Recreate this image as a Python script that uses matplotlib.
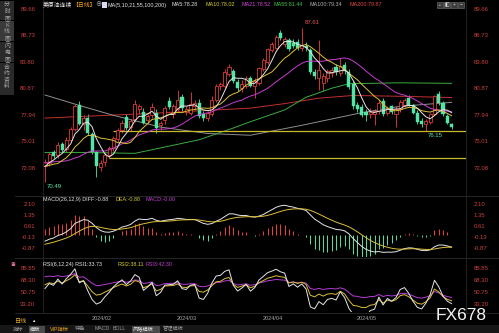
import numpy as np
import pandas as pd
import matplotlib
matplotlib.use("Agg")
import matplotlib.pyplot as plt
from matplotlib.patches import Rectangle

plt.rcParams['font.family'] = ['Liberation Sans', 'Noto Sans CJK SC', 'DejaVu Sans']

W, H = 499, 333

# daily candles, 2024-01-12 .. 2024-05-31
opens = [72.3, 72.6, 73.9, 73.5, 74.7, 74.2, 75.2, 76.4, 79.1, 76.9,
         77.6, 75.8, 73.8, 72.2, 72.7, 73.5, 74.3, 75.3, 76.3, 77.7,
         76.6, 77.5, 78.6, 78.3, 77.4, 77.9, 78.2, 76.8, 77.4, 79.5,
         78.0, 78.6, 79.9, 78.3, 78.2, 78.9, 79.3, 78.0, 77.6, 78.0,
         79.6, 81.1, 81.2, 82.5, 82.8, 81.6, 80.9, 81.2, 82.0, 81.1,
         81.5, 83.0, 83.8, 85.1, 85.4, 87.0, 85.8, 86.2, 85.9, 86.0,
         85.3, 85.6, 85.1, 82.7, 82.0, 81.5, 82.0, 82.6, 83.2, 82.6,
         83.5, 82.7, 81.4, 79.0, 78.8, 78.3, 78.0, 78.0, 78.4, 79.5,
         78.2, 78.9, 78.1, 78.6, 79.0, 79.8, 79.0, 78.2, 77.3, 76.9,
         77.2, 78.1, 80.3, 79.3, 77.8, 76.9]
highs = [73.1, 73.9, 74.1, 74.9, 75.0, 75.5, 76.6, 79.2, 79.5, 77.9,
         78.0, 76.1, 74.0, 73.0, 73.8, 74.5, 75.6, 76.5, 77.4, 78.0,
         77.5, 79.6, 79.2, 78.7, 78.0, 79.3, 78.6, 77.3, 78.9, 79.9,
         79.2, 80.7, 80.3, 78.9, 80.5, 79.6, 79.7, 78.4, 78.4, 80.0,
         81.4, 81.6, 83.0, 83.6, 83.0, 81.9, 81.8, 82.3, 82.3, 82.0,
         83.3, 84.2, 85.4, 86.0, 86.8, 87.3, 86.6, 86.5, 86.3, 86.3,
         87.61, 86.0, 85.4, 83.0, 86.2, 82.6, 83.0, 83.2, 83.6, 84.2,
         83.8, 83.0, 81.7, 79.4, 79.2, 78.6, 78.7, 78.6, 79.6, 79.8,
         78.9, 79.1, 78.9, 79.6, 79.8, 80.2, 79.2, 78.5, 77.6, 77.5,
         78.2, 80.2, 80.6, 79.5, 78.0, 77.1]
lows = [70.49, 72.3, 73.2, 73.2, 73.9, 73.9, 75.0, 76.2, 76.8, 76.3,
        75.7, 73.6, 71.1, 71.7, 72.3, 73.2, 74.0, 75.0, 76.0, 76.3,
        76.2, 77.2, 78.1, 76.9, 77.0, 77.6, 75.9, 76.3, 77.0, 78.6,
        77.6, 78.3, 78.4, 77.9, 77.9, 78.5, 77.6, 77.3, 77.3, 77.8,
        79.4, 80.7, 80.9, 82.2, 81.5, 80.6, 80.5, 80.9, 81.0, 79.8,
        81.3, 82.8, 83.6, 84.9, 85.2, 86.2, 85.5, 85.0, 85.3, 85.1,
        85.0, 85.0, 82.5, 81.9, 80.7, 80.6, 81.6, 82.1, 82.4, 82.3,
        82.5, 80.8, 78.6, 78.3, 77.7, 77.3, 77.6, 76.8, 78.1, 77.8,
        77.9, 78.0, 76.6, 78.3, 78.8, 78.9, 78.0, 77.0, 76.6, 76.15,
        77.0, 77.9, 79.1, 77.8, 76.9, 76.4]
closes = [72.7, 73.6, 73.4, 74.6, 74.1, 75.2, 76.4, 78.9, 77.0, 77.6,
          75.9, 73.8, 72.3, 72.6, 73.5, 74.3, 75.4, 76.3, 77.1, 76.5,
          77.3, 79.2, 78.9, 77.1, 77.8, 78.8, 76.5, 77.1, 78.7, 78.8,
          78.9, 79.6, 78.7, 78.6, 79.2, 79.3, 77.8, 77.6, 78.2, 79.6,
          81.2, 81.4, 82.7, 83.3, 81.7, 80.9, 81.4, 82.0, 81.2, 81.7,
          83.1, 84.0, 85.2, 85.8, 86.6, 86.4, 86.3, 85.2, 85.6, 85.3,
          85.7, 85.3, 82.7, 82.2, 82.9, 82.3, 82.8, 82.9, 82.7, 83.4,
          82.8, 81.0, 78.9, 78.6, 77.9, 77.9, 78.3, 78.4, 79.3, 78.1,
          78.7, 78.3, 78.6, 79.4, 79.6, 79.1, 78.2, 77.2, 76.9, 77.3,
          78.0, 80.0, 79.3, 78.0, 77.1, 76.6]
# closes before the first visible candle (warm-up for MA / RSI)
pre_closes = [71.4, 72.5, 73.4, 74.2, 73.9, 73.6, 75.0, 74.1, 71.8, 71.6,
              70.4, 72.7, 72.2, 73.8, 70.8, 72.2, 71.4, 72.0, 72.7, 72.4]

# long moving averages read at a few candles
ma55_idx = [0, 9, 21, 28, 36, 44, 48, 56, 61, 67, 71, 83, 95]
ma55_val = [73.8, 73.8, 73.7, 74.4, 75.2, 76.5, 77.2, 78.5, 79.9, 80.9, 81.4, 81.5, 81.44]
ma100_idx = [0, 8, 16, 27, 38, 48, 60, 74, 83, 95]
ma100_val = [80.15, 79.0, 77.9, 76.6, 75.9, 75.7, 76.8, 78.2, 78.9, 79.34]
ma200_idx = [0, 24, 48, 56, 64, 72, 84, 95]
ma200_val = [77.6, 78.1, 78.7, 79.2, 79.8, 80.1, 80.0, 79.87]

# MACD state just before the first candle
ema12_seed, ema26_seed, dea_seed = 72.30, 72.80, -0.70

support_levels = [76.2, 73.2]
support_start = [16, 15]

month_idx = [13, 33, 53, 75]
month_lbl = ['2024/02', '2024/03', '2024/04', '2024/05']

price_ticks = [89.66, 86.73, 83.80, 80.87, 77.94, 75.01, 72.08]
macd_ticks = [2.10, 1.35, 0.61, -0.13, -0.87]
rsi_ticks = [85.85, 68.30, 50.75, 33.20]

UP, DOWN = '#f0403c', '#52e6a6'
C_MA = {'MA5': '#e6e6e6', 'MA10': '#dcc038', 'MA21': '#c83cd2',
        'MA55': '#3cac3c', 'MA100': '#8e8e8e', 'MA200': '#c2302e'}
TICK = '#c8403e'
HDR = 3.9

n = len(closes)
x = np.arange(n)
allc = pd.Series(pre_closes + closes)
ma5 = allc.rolling(5).mean().values[-n:]
ma10 = allc.rolling(10).mean().values[-n:]
ma21 = allc.rolling(21).mean().values[-n:]

# MACD
e12, e26, dea = ema12_seed, ema26_seed, dea_seed
diff_l, dea_l = [], []
for c in closes:
    e12 = e12 + 2 / 13 * (c - e12)
    e26 = e26 + 2 / 27 * (c - e26)
    d = e12 - e26
    dea = dea + 2 / 10 * (d - dea)
    diff_l.append(d)
    dea_l.append(dea)
diff_a, dea_a = np.array(diff_l), np.array(dea_l)
hist = 2 * (diff_a - dea_a)


def rsi(series, n_):
    ch = np.diff(np.asarray(series))
    up = np.maximum(ch, 0)
    ab = np.abs(ch)
    su, sa = up[0], ab[0]
    out = []
    for u, a in zip(up, ab):
        su = (u + (n_ - 1) * su) / n_
        sa = (a + (n_ - 1) * sa) / n_
        out.append(100 * su / sa if sa else 50)
    return np.array(out)


full = pre_closes + closes
rsi1 = rsi(full, 6)[-n:]
rsi2 = rsi(full, 12)[-n:]
rsi3 = rsi(full, 24)[-n:]

fig = plt.figure(figsize=(W / 100, H / 100), dpi=100, facecolor='black')

X0, X1 = 43, 466
STEP, XFIRST = 4.28, 45
xlim = ((X0 - XFIRST) / STEP, (X1 - XFIRST) / STEP)


def add_ax(top, bot, v1, y1, v2, y2):
    ax = fig.add_axes([X0 / W, 1 - bot / H, (X1 - X0) / W, (bot - top) / H])
    ax.set_facecolor('black')
    k = (v1 - v2) / (y2 - y1)
    ax.set_ylim(v1 - (bot - y1) * k, v1 + (y1 - top) * k)
    ax.set_xlim(*xlim)
    for s in ax.spines.values():
        s.set_visible(False)
    ax.set_xticks([])
    return ax


def ticks(ax, vals):
    ax.set_yticks(vals)
    ax.set_yticklabels(['%.2f' % v for v in vals])
    ax.tick_params(axis='y', left=False, right=False, labelleft=True, labelright=True,
                   labelsize=4.3, labelcolor=TICK, pad=2)


def ftxt(px, py, s, color, size=HDR, ha='left', va='center', **kw):
    fig.text(px / W, 1 - py / H, s, color=color, fontsize=size, ha=ha, va=va, **kw)


def frect(x0, y0, x1, y1, **kw):
    fig.patches.append(Rectangle((x0 / W, 1 - y1 / H), (x1 - x0) / W, (y1 - y0) / H,
                                 transform=fig.transFigure, **kw))


# ---- price panel
ax = add_ax(0, 195, 89.66, 9, 72.08, 168)
ticks(ax, price_ticks)
bw = 0.72
for i in range(n):
    o, h, l, c = opens[i], highs[i], lows[i], closes[i]
    if c >= o:
        ax.vlines(i, l, o, color=UP, lw=0.6)
        ax.vlines(i, c, h, color=UP, lw=0.6)
        ax.add_patch(Rectangle((i - bw / 2, o), bw, max(c - o, 0.04), facecolor='black',
                               edgecolor=UP, lw=0.55, zorder=3))
    else:
        ax.vlines(i, l, h, color=DOWN, lw=0.6)
        ax.add_patch(Rectangle((i - bw / 2, c), bw, o - c, facecolor=DOWN,
                               edgecolor=DOWN, lw=0.3, zorder=3))

ax.plot(ma200_idx, ma200_val, color=C_MA['MA200'], lw=0.7)
ax.plot(ma100_idx, ma100_val, color=C_MA['MA100'], lw=0.7)
ax.plot(ma55_idx, ma55_val, color=C_MA['MA55'], lw=0.7)
ax.plot(x, ma21, color=C_MA['MA21'], lw=0.7, zorder=4)
ax.plot(x, ma10, color=C_MA['MA10'], lw=0.7, zorder=4)
ax.plot(x, ma5, color=C_MA['MA5'], lw=0.7, zorder=4)
for lv, st in zip(support_levels, support_start):
    ax.hlines(lv, st, xlim[1], color='#c8b830', lw=0.9)

hi_i, lo_i = int(np.argmax(highs)), int(np.argmin(lows))
ax.annotate('%.2f' % highs[hi_i], (hi_i, highs[hi_i]), xytext=(2, 2), textcoords='offset points',
            color='#e8504c', fontsize=4.3, va='bottom')
ax.annotate('%.2f' % lows[lo_i], (lo_i, lows[lo_i]), xytext=(1, -1.5), textcoords='offset points',
            color='#5ee8b0', fontsize=4.3, va='top')
last_lo = 89
ax.annotate('%.2f' % lows[last_lo], (last_lo, lows[last_lo]), xytext=(1, -1.5),
            textcoords='offset points', color='#5ee8b0', fontsize=4.3, va='top')

# ---- MACD panel
axm = add_ax(197, 257, 2.10, 204.5, -0.87, 247.5)
ticks(axm, macd_ticks)
axm.vlines(x, 0, hist, colors=[UP if v >= 0 else DOWN for v in hist], lw=0.7)
axm.plot(x, diff_a, color='#e6e6e6', lw=0.7)
axm.plot(x, dea_a, color=C_MA['MA10'], lw=0.7)

# ---- RSI panel
axr = add_ax(259, 312, 85.85, 268.5, 33.20, 303.5)
ticks(axr, rsi_ticks)
axr.plot(x, rsi3, color='#b43cd4', lw=0.7)
axr.plot(x, rsi2, color=C_MA['MA10'], lw=0.7)
axr.plot(x, rsi1, color='#e6e6e6', lw=0.7)

for mi, ml in zip(month_idx, month_lbl):
    ftxt(XFIRST + STEP * mi + 1, 318, ml, '#a8a8a8', size=4.0, ha='center')

# frame lines
for yy in (196, 258, 313):
    fig.add_artist(plt.Line2D([15 / W, 1], [1 - yy / H] * 2, color='#2c2c2c', lw=0.6))
for xx in (X0, X1):
    fig.add_artist(plt.Line2D([xx / W] * 2, [1 - 313 / H, 1], color='#262626', lw=0.6))

# ---- headers
ftxt(43, 5, '美原油连续', '#e8e8e8', size=4.2)
ftxt(72, 5, '【日线】', '#f0a020', size=4.2)
ftxt(95, 5, '⊕', '#a0a0a0', size=4.5)
frect(102, 2, 107, 8, facecolor='#d8d8f0', edgecolor='none')
ma_txt = [('MA(5,10,21,55,100,200)', '#e8e8e8', 108), ('MA5:78.28', C_MA['MA5'], 171),
          ('MA10:78.02', '#d8d030', 205), ('MA21:78.52', '#d448d8', 242),
          ('MA55:81.44', '#44c444', 273), ('MA100:79.34', '#b4b4b4', 310),
          ('MA200:79.87', '#e44444', 349)]
for s, c, px in ma_txt:
    ftxt(px, 5, s, c)
for k, g in enumerate(['▫', '◧', '+', '−']):
    frect(437 + 7 * k, 2, 443 + 7 * k, 8, facecolor='#3a3a3a', edgecolor='#777777', lw=0.4)
    ftxt(440 + 7 * k, 5, g, '#dddddd', size=3.5, ha='center')

ftxt(43, 199.5, 'MACD(26,12,9) DIFF:-0.88', '#e8e8e8')
ftxt(116, 199.5, 'DEA:-0.88', '#d8d030')
ftxt(145, 199.5, 'MACD:-0.00', '#c040d0')
ftxt(43, 264.5, 'RSI(6,12,24) RSI1:33.73', '#e8e8e8')
ftxt(118, 264.5, 'RSI2:38.11', '#d8d030')
ftxt(145, 264.5, 'RSI3:42.30', '#c040d0')
ftxt(13, 264.5, '◉', '#e07090', size=3.5, ha='center')

# ---- left sidebar
tabs = [('分时图', 1, 20), ('K线图', 21, 41), ('闪电图', 42, 62), ('合约资料', 63, 95)]
for name, t0, t1 in tabs:
    frect(0, t0, 14, t1, facecolor='#3a3a3a' if name == 'K线图' else '#2a2a2a', edgecolor='none')
    for j, ch in enumerate(name):
        ftxt(7, t0 + 4.5 + 6.3 * j, ch, '#a8a8a8', size=4.2, ha='center')

# ---- bottom bar
ftxt(15, 321.5, '日线', '#e8a820', size=4.4)
ftxt(31, 321.5, '▲', '#e8e8e8', size=3.2)
frect(0, 325, W, H, facecolor='#161616', edgecolor='none')
bar = [('指标', 13, False, '#9a9a9a'), ('模板', 30, True, '#e8e8e8'), ('VIP指标', 50, False, '#e8a020'),
       ('特色', 75, False, '#9a9a9a'), ('MACD', 95, False, '#9a9a9a'), ('BOLL', 113, False, '#9a9a9a'),
       ('风格模板', 133, True, '#e8e8e8'), ('管理模板', 163, False, '#9a9a9a')]
for s, px, box, c in bar:
    if box:
        wbox = 15 if len(s) == 2 else 27
        frect(px - 1.5, 325.5, px + wbox, 332.5, facecolor='#4a4a4a', edgecolor='none')
    ftxt(px, 329, s, c, size=3.8)

ftxt(461, 316, 'FX678', '#f4f4f4', size=12.5, ha='center')

fig.savefig('out.png', dpi=100, facecolor='black')
